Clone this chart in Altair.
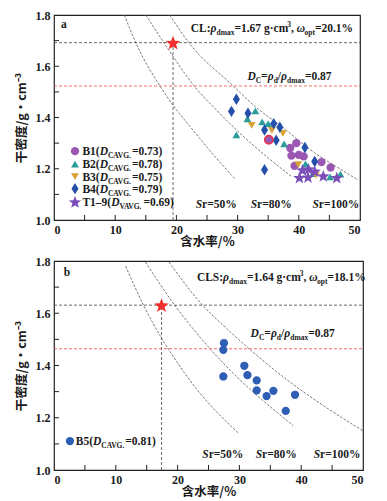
import math
import altair as alt
import pandas as pd

# ------------------------------------------------------------------ data
# panel a (CL)
b1_w = [35.1, 39.6, 38.6, 38.8, 40.0, 40.8, 39.3, 43.7, 45.2]
b1_rho = [1.313, 1.300, 1.281, 1.251, 1.254, 1.248, 1.211, 1.226, 1.205]
b1_outlined = [True, False, False, False, False, False, False, False, False]
b2_w = [29.8, 31.6, 32.9, 34.0, 35.0, 37.6, 41.1, 42.3, 45.1, 46.8]
b2_rho = [1.332, 1.395, 1.426, 1.383, 1.376, 1.297, 1.219, 1.181, 1.168, 1.179]
b3_w = [32.3, 35.6, 37.4, 39.9, 42.8]
b3_rho = [1.369, 1.350, 1.338, 1.216, 1.175]
b4_w = [29.8, 29.0, 31.7, 34.4, 35.9, 36.9, 36.3, 41.0, 42.6, 34.4]
b4_rho = [1.471, 1.424, 1.417, 1.351, 1.376, 1.362, 1.311, 1.283, 1.228, 1.196]
t_w = [40.1, 40.6, 41.5, 41.6, 42.6, 44.0, 46.2]
t_rho = [1.166, 1.196, 1.168, 1.200, 1.191, 1.172, 1.166]
opt_a = (19.45, 1.692)
dc_a = 1.523

curve_a_50_w = [11.5, 13.4, 17.4, 19.6, 22.4, 25.7, 29.5]
curve_a_50_rho = [1.80, 1.69, 1.52, 1.443, 1.36, 1.264, 1.162]
curve_a_80_w = [15.0, 18.0, 23.0, 27.0, 31.0, 35.0, 38.8]
curve_a_80_rho = [1.80, 1.69, 1.52, 1.418, 1.325, 1.242, 1.17]
curve_a_100_w = [18.9, 22.1, 29.3, 33.0, 37.2, 42.6, 46.0, 49.7]
curve_a_100_rho = [1.80, 1.69, 1.523, 1.44, 1.365, 1.262, 1.21, 1.156]

# panel b (CLS)
b5_w = [27.5, 27.4, 27.4, 30.8, 31.3, 32.8, 32.8, 34.4, 35.5, 37.5, 39.0]
b5_rho = [1.486, 1.460, 1.358, 1.399, 1.363, 1.343, 1.305, 1.283, 1.303, 1.226, 1.288]
opt_b = (17.4, 1.631)
dc_b = 1.464

curve_b_50_w = [11.6, 14.6, 17.4, 20.0, 23.0, 26.5, 29.9]
curve_b_50_rho = [1.78, 1.625, 1.505, 1.41, 1.312, 1.218, 1.14]
curve_b_80_w = [14.8, 19.5, 24.0, 28.0, 32.0, 35.5, 38.7]
curve_b_80_rho = [1.796, 1.632, 1.498, 1.394, 1.303, 1.232, 1.17]
curve_b_100_w = [18.6, 23.7, 28.0, 33.0, 38.0, 44.0, 50.0]
curve_b_100_rho = [1.796, 1.64, 1.54, 1.435, 1.34, 1.24, 1.15]

sr_labels = ["50%", "80%", "100%"]
x_labels = [0, 10, 20, 30, 40, 50]
y_labels = [1.0, 1.2, 1.4, 1.6, 1.8]
x_ticks = [5, 10, 15, 20, 25, 30, 35, 40, 45]
y_ticks = [1.1, 1.2, 1.3, 1.4, 1.5, 1.6, 1.7]

# ------------------------------------------------------------------ style
SERIF = "Liberation Serif"
CJK = "Noto Sans CJK SC"
MAIN, SMALL = 11.5, 7.5
TXT = "#1a1a1a"
TB = {' ': .25, '%': 1.0, '(': .333, ')': .333, ',': .25, '-': .333, '–': .5,
      '.': .25, '/': .278, ':': .333, '=': .57, 'A': .722, 'B': .667,
      'C': .722, 'D': .722, 'G': .778, 'L': .667, 'S': .556, 'T': .667,
      'V': .722, 'a': .5, 'b': .556, 'c': .444, 'd': .556, 'g': .5, 'm': .833,
      'o': .5, 'p': .556, 'r': .444, 't': .333, 'x': .5, '·': .25, 'ρ': .55,
      'ω': .69}
TBI = {'D': .722, 'S': .556, 'r': .389, 'ρ': .52, 'ω': .67}


def star_path(inner=0.42):
    pts = []
    for k in range(10):
        r = 1.0 if k % 2 == 0 else inner
        a = math.radians(-90 + 36 * k)
        pts.append("%.3f,%.3f" % (r * math.cos(a), r * math.sin(a) + 0.1))
    return "M" + "L".join(pts) + "Z"


STAR = star_path()
DIAMOND = "M0,-1L0.62,0L0,1L-0.62,0Z"
series = ["B1", "B2", "B3", "B4", "T1-9", "B5"]
shapes = ["circle", "triangle-up", "triangle-down", DIAMOND, STAR, "circle"]
colors = ["#9a58b2", "#2a9d9b", "#d9a236", "#2550aa", "#7b4db8", "#2f5fb5"]
sizes = [68, 62, 62, 130, 170, 68]

REF_H = 209.3   # plot size in the reference, used to place annotations
REF_W = 306.0


def tw(s, fs, it):
    tot = 0.0
    for ch in s:
        if it and ch in TBI:
            tot += TBI[ch]
        else:
            tot += TB.get(ch, 0.5)
    return tot * fs


def rich(parts, x0, y0, sx, sy):
    rows, off = [], 0.0
    for txt, kind in parts:
        fs, it, dy = {"n": (MAIN, False, 0), "i": (MAIN, True, 0),
                      "sub": (SMALL, False, 3), "sup": (SMALL, False, -4.5)}[kind]
        rows.append(dict(x=float(x0 + off / sx), y=float(y0 - dy / sy), t=txt,
                         fs=fs, it=it))
        off += tw(txt, fs, it)
    return rows


def panel(W, H, pts, outlined, curves, opt, dc, ann, legend):
    sx, sy = W / 50.0, H / 0.8
    XS = alt.Scale(domain=[0, 50], nice=False, zero=False)
    YS = alt.Scale(domain=[1.0, 1.8], nice=False, zero=False)
    XA = alt.Axis(title="含水率/%", values=x_labels, ticks=False, domain=False,
                  grid=False, labelFont=SERIF, labelFontWeight="bold",
                  labelFontSize=12, labelColor=TXT, labelPadding=4,
                  titleFont=CJK, titleFontSize=12.5, titleFontWeight="bold",
                  titleColor=TXT, titlePadding=0)
    YA = alt.Axis(title="干密度/g·cm⁻³", values=y_labels, ticks=False,
                  domain=False, grid=False, labelFont=SERIF,
                  labelFontWeight="bold", labelFontSize=12, labelColor=TXT,
                  labelPadding=4, format=".1f", titleFont=CJK,
                  titleFontSize=12.5, titleFontWeight="bold", titleColor=TXT,
                  titlePadding=7)

    def X(f):
        return alt.X(f, type="quantitative", scale=XS, axis=XA)

    def Y(f):
        return alt.Y(f, type="quantitative", scale=YS, axis=YA)

    layers = []
    cdf = pd.concat([pd.DataFrame({"w": w, "rho": r, "c": name})
                     for name, w, r in curves], ignore_index=True)
    layers.append(alt.Chart(cdf).mark_line(
        color="#555", strokeWidth=0.8, strokeDash=[2.5, 1.5],
        interpolate="monotone").encode(x=X("w"), y=Y("rho"), detail="c:N"))
    one = pd.DataFrame({"w0": [opt[0]], "r0": [opt[1]], "lo": [1.0], "dc": [dc]})
    layers.append(alt.Chart(one).mark_rule(color="#444", strokeWidth=0.8,
                  strokeDash=[3, 2]).encode(y=Y("r0"), x=alt.value(0),
                                            x2=alt.value(W)))
    layers.append(alt.Chart(one).mark_rule(color="#444", strokeWidth=0.8,
                  strokeDash=[3, 2]).encode(x=X("w0"), y=Y("lo"), y2="r0"))
    layers.append(alt.Chart(one).mark_rule(color="#f04a4a", strokeWidth=0.8,
                  strokeDash=[3, 2]).encode(y=Y("dc"), x=alt.value(0),
                                            x2=alt.value(W)))
    layers.append(alt.Chart(pd.DataFrame({"v": x_ticks})).mark_rule(
        color="#222", strokeWidth=1).encode(x=X("v"), y=alt.value(H),
                                            y2=alt.value(H - 5)))
    layers.append(alt.Chart(pd.DataFrame({"v": y_ticks})).mark_rule(
        color="#222", strokeWidth=1).encode(y=Y("v"), x=alt.value(0),
                                            x2=alt.value(5)))
    used = sorted(set(pts["s"]), key=series.index)
    for s in used:
        i = series.index(s)
        d = pts[pts.s == s]
        layers.append(alt.Chart(d).mark_point(
            filled=True, shape=shapes[i], size=sizes[i], color=colors[i],
            opacity=1).encode(x=X("w"), y=Y("rho")))
    if outlined is not None and len(outlined):
        layers.append(alt.Chart(outlined).mark_point(
            filled=False, shape="circle", size=68, color="#e8344a",
            strokeWidth=1.6, opacity=1).encode(x=X("w"), y=Y("rho")))
    layers.append(alt.Chart(one).mark_point(
        filled=True, shape=STAR, size=230, color="#f0302c",
        opacity=1).encode(x=X("w0"), y=Y("r0")))
    for s, (lx, ly) in legend:
        i = series.index(s)
        layers.append(alt.Chart(pd.DataFrame({"lx": [lx], "ly": [ly]})).mark_point(
            filled=True, shape=shapes[i], size=sizes[i], color=colors[i],
            opacity=1).encode(x=X("lx"), y=Y("ly")))
    rows = []
    for parts, x0, y0 in ann:
        rows += rich(parts, x0, y0, sx, sy)
    tdf = pd.DataFrame(rows)
    for it, style in [(False, "normal"), (True, "italic")]:
        for fs in [MAIN, SMALL]:
            sub = tdf[(tdf.it == it) & (tdf.fs == fs)]
            sub = pd.DataFrame({"tx": sub["x"].tolist(), "ty": sub["y"].tolist(),
                                "t": sub["t"].tolist()})
            if len(sub):
                layers.append(alt.Chart(sub).mark_text(
                    align="left", baseline="alphabetic", font=SERIF,
                    fontSize=fs, fontWeight="bold", fontStyle=style,
                    color=TXT).encode(x=X("tx"), y=Y("ty"), text="t:N"))
    return alt.layer(*layers).properties(width=W, height=H)


def pts_df(groups):
    return pd.concat([pd.DataFrame({"w": w, "rho": r, "s": s})
                      for s, w, r in groups], ignore_index=True)


pts_a = pts_df([("B1", b1_w, b1_rho), ("B2", b2_w, b2_rho),
                ("B3", b3_w, b3_rho), ("B4", b4_w, b4_rho),
                ("T1-9", t_w, t_rho)])
out_a = pd.DataFrame({"w": [w for w, o in zip(b1_w, b1_outlined) if o],
                      "rho": [r for r, o in zip(b1_rho, b1_outlined) if o]})
pts_b = pts_df([("B5", b5_w, b5_rho)])


def sr(lbl):
    return [("S", "i"), ("r=" + lbl, "n")]


def cl_text(name, rho, w):
    return [(name + ":", "n"), ("ρ", "i"), ("dmax", "sub"),
            ("=" + rho + " g·cm", "n"), ("3", "sup"), (", ", "n"),
            ("ω", "i"), ("opt", "sub"), ("=" + w + "%", "n")]


DC = [("D", "i"), ("C", "sub"), ("=", "n"), ("ρ", "i"), ("d", "sub"),
      ("/", "n"), ("ρ", "i"), ("dmax", "sub"), ("=0.87", "n")]


def leg_text(name, sub, val):
    return [(name + "(", "n"), ("D", "i"), (sub, "sub"), ("=" + val + ")", "n")]


def yr(px):
    return 1.8 - px / REF_H * 0.8


def xr(px):
    return px / REF_W * 50.0


Wa, Ha = 306, 205
Wb, Hb = 309, 209

leg_a_names = [("B1", "CAVG.", "0.73"), ("B2", "CAVG.", "0.78"),
               ("B3", "CAVG.", "0.75"), ("B4", "CAVG.", "0.79"),
               ("T1–9", "VAVG.", "0.69")]
leg_a_rows = [139, 152.3, 165, 177.3, 190.7]
ann_a = [([("a", "n")], xr(7), yr(13)),
         (cl_text("CL", "1.67", "20.1"), xr(136.7), yr(17)),
         (DC, xr(193.4), yr(66)),
         (sr(sr_labels[0]), xr(141.7), yr(197)),
         (sr(sr_labels[1]), xr(196.7), yr(197)),
         (sr(sr_labels[2]), xr(258.4), yr(197))]
for (n, s, v), py in zip(leg_a_names, leg_a_rows):
    ann_a.append((leg_text(n, s, v), xr(28.4), yr(py + 4)))
legend_a = [(s, (xr(21), yr(py))) for s, py in
            zip(["B1", "B2", "B3", "B4", "T1-9"], leg_a_rows)]

ann_b = [([("b", "n")], xr(9.7), yr(15.5)),
         (cl_text("CLS", "1.64", "18.1"), xr(141.5), yr(20)),
         (DC, xr(194.7), yr(76)),
         (sr(sr_labels[0]), xr(146.8), yr(197.5)),
         (sr(sr_labels[1]), xr(199.7), yr(197.5)),
         (sr(sr_labels[2]), xr(257.2), yr(197.5)),
         (leg_text("B5", "CAVG.", "0.81"), xr(21.5), yr(184.3))]
legend_b = [("B5", (xr(15.8), yr(180.3)))]

curves_a = [("50", curve_a_50_w, curve_a_50_rho),
            ("80", curve_a_80_w, curve_a_80_rho),
            ("100", curve_a_100_w, curve_a_100_rho)]
curves_b = [("50", curve_b_50_w, curve_b_50_rho),
            ("80", curve_b_80_w, curve_b_80_rho),
            ("100", curve_b_100_w, curve_b_100_rho)]

top = panel(Wa, Ha, pts_a, out_a, curves_a, opt_a, dc_a, ann_a, legend_a)
bot = panel(Wb, Hb, pts_b, None, curves_b, opt_b, dc_b, ann_b, legend_b)

chart = alt.vconcat(top, bot, spacing=5).properties(
    padding={"top": 0, "left": 6, "right": 5, "bottom": 0}
).configure_view(stroke="#222", strokeWidth=1.2)

chart.save("out.html", embed_options={"renderer": "svg", "actions": False})
